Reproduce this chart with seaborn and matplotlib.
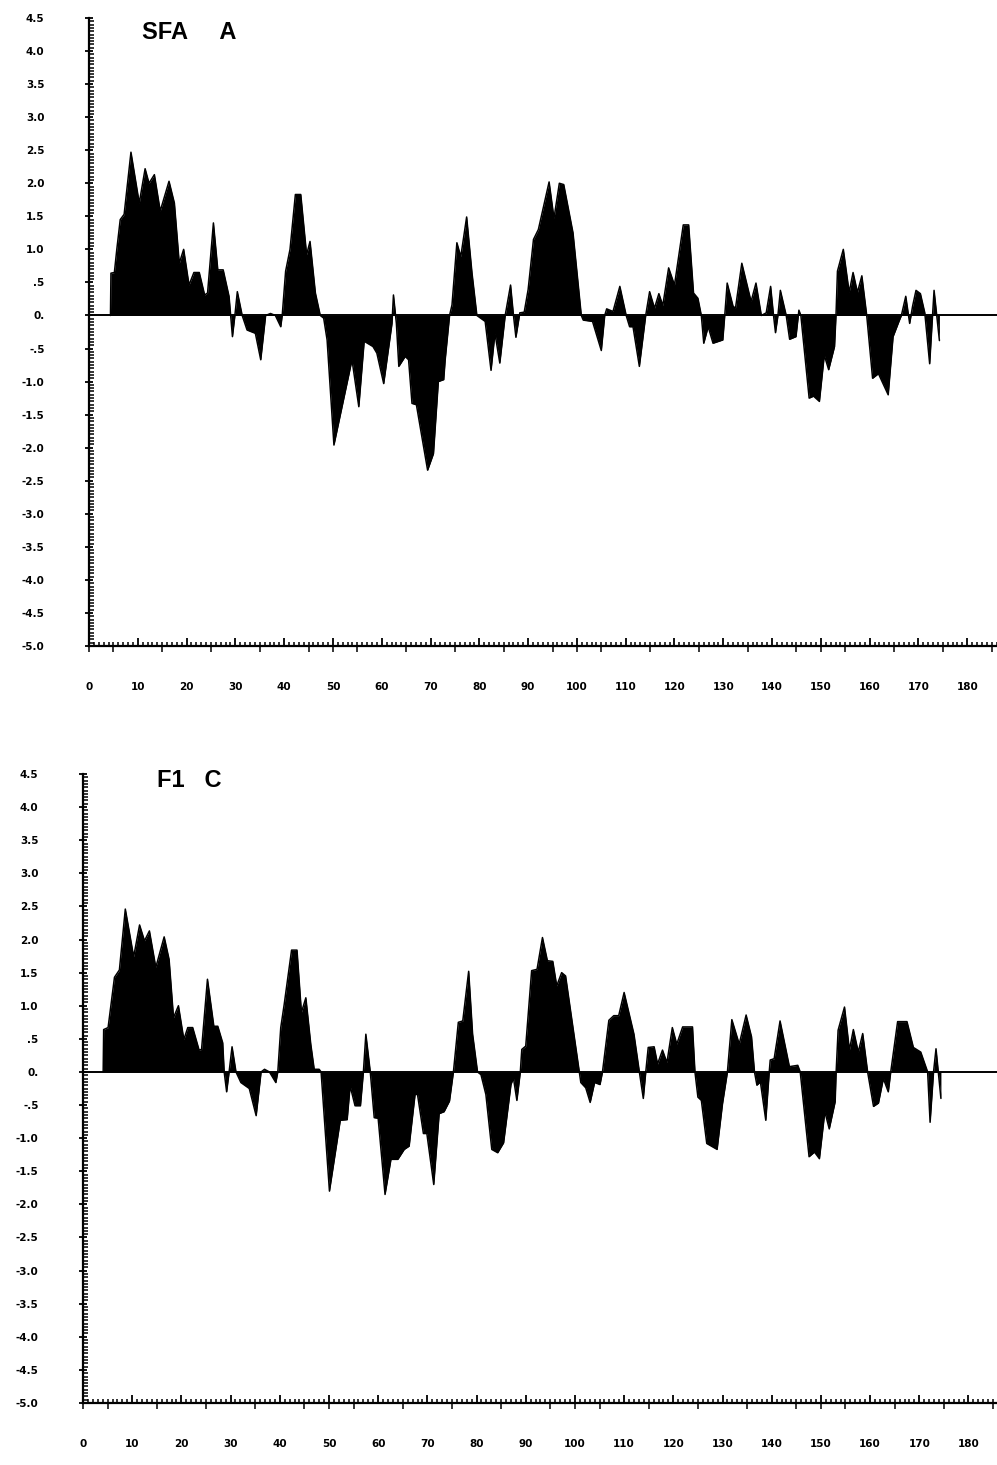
import numpy as np
import matplotlib
matplotlib.use("Agg")
import matplotlib.pyplot as plt
from matplotlib.ticker import MultipleLocator
import seaborn as sns

# ---------------- data ----------------
titles = ["SFA     A", "F1   C"]

sfa_x = [4.4, 4.5, 5.2, 5.7, 6.4, 7.2, 8.6, 10.3, 11.5, 12.3,
         13.4, 14.6, 16.4, 17.5, 18.5, 19.4, 20.5, 21.5, 22.6, 23.7,
         24.3, 25.5, 26.4, 27.5, 28.7, 29.4, 29.9, 30.4, 31.4, 32.4,
         34.1, 35.2, 36.2, 37.2, 38.2, 39.3, 39.6, 40.3, 41.2, 42.3,
         43.4, 44.6, 45.3, 46.4, 47.4, 48.1, 48.8, 50.2, 53.9, 55.3,
         56.4, 58.2, 59.0, 60.4, 62.1, 62.4, 63.0, 63.5, 64.8, 65.5,
         66.2, 67.1, 69.4, 70.6, 71.6, 72.7, 73.0, 73.9, 74.4, 75.4,
         76.2, 77.4, 78.5, 79.5, 81.2, 82.4, 83.2, 84.2, 85.3, 86.4,
         87.0, 87.5, 88.3, 89.2, 90.0, 91.1, 92.1, 94.3, 95.3, 96.4,
         97.3, 99.2, 100.9, 101.3, 103.2, 105.0, 105.7, 106.1, 107.4, 108.8,
         110.1, 110.8, 111.5, 112.8, 114.1, 114.9, 115.9, 116.8, 117.6, 118.8,
         120.0, 121.8, 122.9, 123.9, 124.8, 125.5, 126.0, 126.9, 127.9, 129.9,
         130.3, 130.8, 132.0, 132.5, 133.8, 135.7, 136.7, 137.8, 138.8, 139.7,
         140.3, 140.7, 141.2, 141.7, 142.9, 143.6, 144.9, 145.5, 145.9, 147.6,
         148.5, 149.7, 150.7, 151.6, 152.8, 153.1, 153.4, 154.6, 155.8, 156.6,
         157.5, 158.4, 159.4, 160.6, 161.8, 163.8, 164.8, 166.0, 166.5, 167.4,
         168.2, 168.8, 169.5, 170.4, 171.3, 172.3, 173.2, 174.3]
sfa_y = [0, 0.64, 0.65, 1.0, 1.45, 1.53, 2.47, 1.70, 2.22, 2.0,
         2.13, 1.58, 2.03, 1.70, 0.79, 1.0, 0.46, 0.65, 0.65, 0.31,
         0.34, 1.40, 0.69, 0.69, 0.29, -0.32, 0, 0.36, 0, -0.22,
         -0.27, -0.67, 0, 0.03, 0, -0.17, 0, 0.67, 1.0, 1.83,
         1.83, 0.92, 1.12, 0.34, 0, -0.04, -0.37, -1.96, -0.67, -1.38,
         -0.39, -0.47, -0.57, -1.03, -0.12, 0.31, -0.12, -0.77, -0.62, -0.67,
         -1.33, -1.35, -2.34, -2.09, -1.0, -0.97, -0.67, 0, 0.16, 1.10,
         0.89, 1.49, 0.64, 0, -0.09, -0.83, -0.27, -0.72, 0, 0.46,
         0, -0.33, 0.04, 0.05, 0.39, 1.15, 1.30, 2.02, 1.47, 2.0,
         1.98, 1.25, 0, -0.07, -0.09, -0.53, 0, 0.10, 0.06, 0.44,
         0, -0.17, -0.17, -0.77, 0, 0.36, 0.11, 0.33, 0.15, 0.72,
         0.46, 1.37, 1.37, 0.34, 0.26, 0, -0.42, -0.17, -0.42, -0.37,
         0, 0.49, 0.14, 0.11, 0.79, 0.21, 0.49, 0, 0.04, 0.44,
         0, -0.26, 0, 0.38, 0, -0.36, -0.32, 0.08, 0, -1.25,
         -1.22, -1.30, -0.60, -0.82, -0.47, 0, 0.67, 1.0, 0.35, 0.65,
         0.35, 0.60, 0, -0.95, -0.88, -1.20, -0.32, -0.09, 0, 0.29,
         -0.12, 0.14, 0.38, 0.33, 0.04, -0.73, 0.38, -0.38]

f1c_x = [4.1, 4.2, 5.1, 6.4, 7.4, 8.6, 10.3, 11.5, 12.5, 13.5,
         14.8, 16.5, 17.5, 18.4, 19.4, 20.5, 21.3, 22.3, 23.6, 24.1,
         25.3, 26.6, 27.4, 28.4, 28.7, 29.2, 29.7, 30.3, 31.1, 32.1,
         33.8, 35.2, 36.2, 36.9, 37.9, 39.2, 39.6, 40.2, 40.9, 42.4,
         43.5, 44.4, 45.3, 46.3, 47.0, 48.0, 48.4, 50.1, 52.3, 53.7,
         54.3, 55.3, 56.4, 57.0, 57.5, 58.4, 59.2, 60.0, 61.4, 62.6,
         64.0, 65.3, 66.3, 67.5, 68.0, 69.2, 69.9, 71.3, 72.4, 73.4,
         74.5, 75.3, 76.3, 77.2, 78.4, 79.2, 80.2, 80.9, 81.9, 83.1,
         84.3, 85.5, 87.0, 87.5, 88.2, 88.9, 89.2, 90.0, 91.2, 92.3,
         93.4, 94.4, 95.5, 96.3, 97.3, 98.1, 100.9, 101.2, 102.2, 103.1,
         104.0, 105.1, 105.6, 106.9, 107.9, 108.9, 110.0, 112.0, 113.1, 113.9,
         114.4, 114.9, 116.1, 116.8, 117.8, 118.7, 119.8, 120.7, 121.9, 123.9,
         124.4, 125.0, 125.7, 126.8, 128.9, 130.0, 131.0, 131.9, 133.4, 134.8,
         135.9, 136.5, 137.0, 137.7, 138.8, 139.5, 139.7, 140.5, 141.7, 143.6,
         145.3, 145.8, 147.6, 148.7, 149.7, 150.8, 151.7, 152.9, 153.1, 153.5,
         154.8, 155.8, 156.6, 157.6, 158.5, 159.5, 160.7, 161.7, 162.7, 163.7,
         164.2, 165.6, 167.5, 168.8, 170.3, 171.7, 172.2, 172.9, 173.4, 174.4]
f1c_y = [0, 0.64, 0.67, 1.43, 1.54, 2.46, 1.74, 2.22, 1.98, 2.13,
         1.58, 2.04, 1.70, 0.82, 1.0, 0.49, 0.67, 0.67, 0.33, 0.34,
         1.40, 0.69, 0.69, 0.44, 0, -0.30, 0, 0.38, 0, -0.16,
         -0.25, -0.66, 0, 0.04, 0, -0.16, 0, 0.67, 1.02, 1.84,
         1.84, 0.90, 1.12, 0.42, 0.04, 0.04, 0, -1.80, -0.73, -0.72,
         -0.21, -0.51, -0.51, 0, 0.57, 0, -0.69, -0.70, -1.85, -1.32,
         -1.32, -1.17, -1.12, -0.34, -0.34, -0.93, -0.93, -1.70, -0.63, -0.60,
         -0.44, 0, 0.75, 0.77, 1.52, 0.57, 0, -0.04, -0.34, -1.17,
         -1.22, -1.07, -0.19, -0.09, -0.43, 0, 0.34, 0.39, 1.53, 1.55,
         2.03, 1.68, 1.67, 1.30, 1.50, 1.45, 0, -0.16, -0.24, -0.46,
         -0.16, -0.19, 0, 0.78, 0.85, 0.85, 1.20, 0.57, 0, -0.40,
         0, 0.37, 0.38, 0.12, 0.33, 0.14, 0.67, 0.42, 0.68, 0.68,
         0, -0.38, -0.43, -1.08, -1.17, -0.48, 0, 0.79, 0.42, 0.86,
         0.53, 0, -0.20, -0.15, -0.73, 0, 0.18, 0.20, 0.77, 0.08,
         0.10, 0, -1.28, -1.21, -1.31, -0.60, -0.86, -0.45, 0, 0.63,
         0.98, 0.33, 0.64, 0.30, 0.58, 0, -0.52, -0.47, -0.10, -0.30,
         0, 0.76, 0.76, 0.37, 0.30, 0, -0.76, 0, 0.35, -0.40]

y_tick_values = [4.5, 4.0, 3.5, 3.0, 2.5, 2.0, 1.5, 1.0, 0.5, 0.0,
                 -0.5, -1.0, -1.5, -2.0, -2.5, -3.0, -3.5, -4.0, -4.5, -5.0]
y_tick_labels = ["4.5", "4.0", "3.5", "3.0", "2.5", "2.0", "1.5", "1.0", ".5", "0.",
                 "-.5", "-1.0", "-1.5", "-2.0", "-2.5", "-3.0", "-3.5", "-4.0", "-4.5", "-5.0"]
x_tick_values = [0, 10, 20, 30, 40, 50, 60, 70, 80, 90,
                 100, 110, 120, 130, 140, 150, 160, 170, 180]
x_tick_labels = ["0", "10", "20", "30", "40", "50", "60", "70", "80", "90",
                 "100", "110", "120", "130", "140", "150", "160", "170", "180"]
x_half_ticks = [0, 5, 15, 25, 35, 45, 50, 55, 65, 75, 85, 95, 100, 105,
                115, 125, 135, 145, 150, 155, 165, 175, 185]

# ---------------- style ----------------
sns.set_style("ticks")
plt.rcParams["font.family"] = ["DejaVu Sans"]

W, H = 997, 1465
fig = plt.figure(figsize=(W / 100, H / 100), dpi=100)

# panel geometry in pixels: left, right, top, bottom
panels = [
    dict(px=(89, 997, 18, 646), x=sfa_x, y=sfa_y, title=titles[0], tpos=(142, 21), xmax=186.1),
    dict(px=(83, 997, 774, 1403), x=f1c_x, y=f1c_y, title=titles[1], tpos=(157, 769), xmax=185.8),
]

for p in panels:
    l, r, t, b = p["px"]
    ax = fig.add_axes([l / W, (H - b) / H, (r - l) / W, (b - t) / H])
    ax.set_xlim(0, p["xmax"])
    ax.set_ylim(-5.0, 4.5)

    xv = np.array(p["x"])
    yv = np.array(p["y"])
    ax.fill_between(xv, yv, 0, color="black", lw=0)
    sns.lineplot(x=xv, y=yv, ax=ax, color="black", lw=1.1,
                 estimator=None, sort=False)
    ax.axhline(0, color="black", lw=1.4)

    for s in ["top", "right"]:
        ax.spines[s].set_visible(False)
    for s in ["left", "bottom"]:
        ax.spines[s].set_linewidth(1.6)
        ax.spines[s].set_color("black")

    # y ticks
    ax.set_yticks(y_tick_values)
    ax.set_yticklabels(y_tick_labels)
    ax.yaxis.set_minor_locator(MultipleLocator(0.05))
    ax.tick_params(axis="y", which="major", direction="inout", length=6,
                   width=1.3, pad=29, labelsize=7.5, colors="black")
    ax.tick_params(axis="y", which="minor", direction="in", length=3.4, width=1.1,
                   color="black")

    # x ticks
    ax.set_xticks(x_tick_values)
    ax.set_xticklabels(x_tick_labels)
    ax.xaxis.set_minor_locator(MultipleLocator(1))
    ax.tick_params(axis="x", which="major", direction="in", length=6,
                   width=1.3, pad=26, labelsize=7.5, colors="black")
    ax.tick_params(axis="x", which="minor", direction="in", length=3, width=1.1,
                   color="black")
    for lab in ax.get_xticklabels() + ax.get_yticklabels():
        lab.set_fontweight("bold")

    sec = ax.secondary_xaxis("bottom")
    sec.set_xticks(x_half_ticks)
    sec.set_xticklabels([])
    sec.tick_params(axis="x", which="major", direction="out", length=4, width=1.1,
                    color="black")
    sec.spines["bottom"].set_visible(False)

    ax.set_xlabel("")
    ax.set_ylabel("")

    fig.text(p["tpos"][0] / W, 1 - p["tpos"][1] / H, p["title"],
             ha="left", va="top", fontsize=17, fontweight="bold",
             family=["Liberation Sans", "DejaVu Sans"], color="black")

fig.savefig("out.png", dpi=100, facecolor="white")
